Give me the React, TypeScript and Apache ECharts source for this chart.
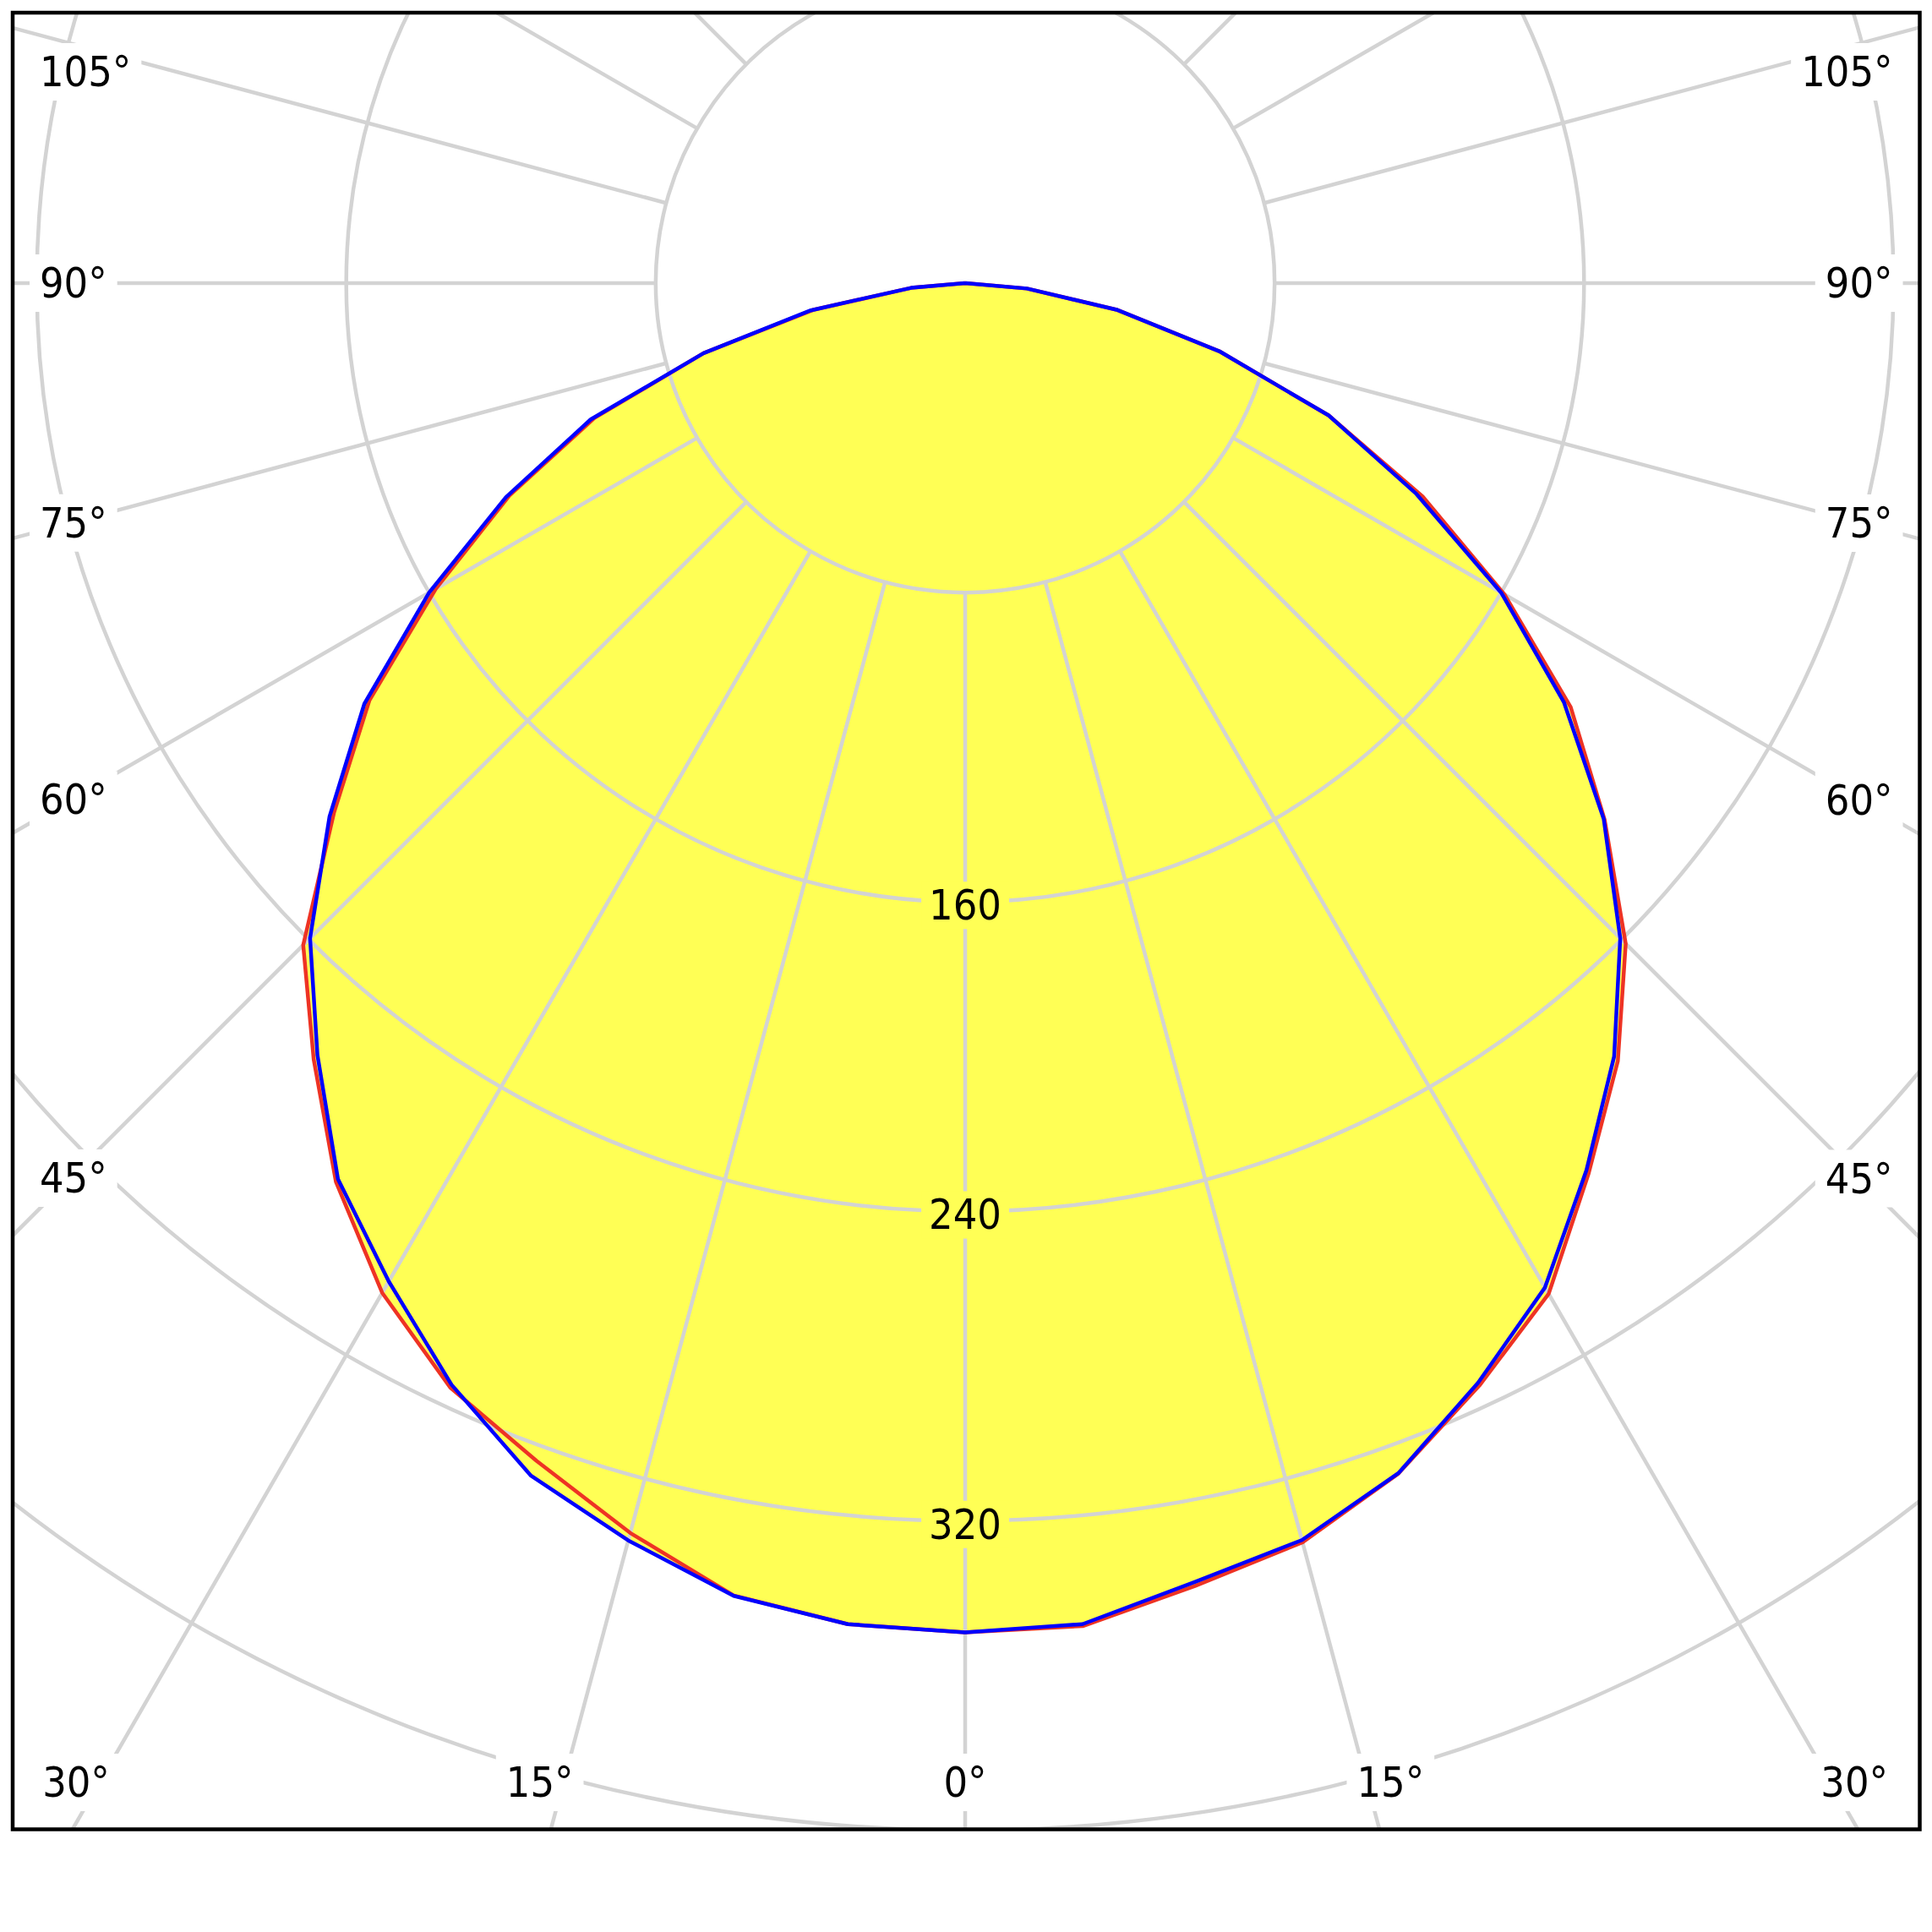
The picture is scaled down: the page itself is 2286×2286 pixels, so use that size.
import React, { useEffect, useRef } from "react";
import * as echarts from "echarts";

// ---- data (luminous intensity, cd/klm) ----
const angles = [-90, -85, -80, -75, -70, -65, -60, -55, -50, -45, -40, -35, -30, -25, -20, -15, -10, -5, 0,
  5, 10, 15, 20, 25, 30, 35, 40, 45, 50, 55, 60, 65, 70, 75, 80, 85, 90];
const redValues = [0, 14, 40, 70, 102, 130, 158, 188, 213, 242, 262, 283.6, 301.4, 315, 324, 334.5, 344.5, 348, 348.8,
  348.5, 342, 337, 327.5, 314.5, 301.7, 281, 262.5, 241.5, 215.8, 191.1, 161, 130.5, 100, 68, 40, 16, 0];
const blueValues = [0, 14, 40.5, 70, 103, 131, 160, 189.6, 214.5, 239.5, 260.5, 282.7, 298, 314.2, 328.1, 336.5, 344.6, 348, 348.8,
  348, 341, 336.4, 327.4, 313.7, 299.8, 280, 261, 239.5, 215.5, 189, 160, 128.5, 100, 68, 40, 16, 0];
const radiusTicks = [0, 80, 160, 240, 320, 400];
const radiusLabelValues = [160, 240, 320];
const angleLabelValues = [-105, -90, -75, -60, -45, -30, -15, 0, 15, 30, 45, 60, 75, 90, 105];

// ---- layout ----
const W = 2286;
const H = 2286;
const FRAME = { left: 15, top: 15, right: 2271.5, bottom: 2164.5 };
const CX = 1142;
const CY = 335;
const PX_PER_UNIT = 4.577;
const R_MAX = radiusTicks[radiusTicks.length - 1];
const R_INNER = radiusTicks[1];
const LABEL_TOP = 85;
const LABEL_BOTTOM = 2109;

const GRID = "#d3d3d3";
const YELLOW = "#ffff55";
const RED = "#ee3324";
const BLUE = "#0000ff";
const FONT = '"DejaVu Sans Condensed", "DejaVu Sans", sans-serif';
const deg = Math.PI / 180;

function pairs(vals: number[]) {
  return angles.map((a, i) => [vals[i], a]);
}

function angleLabel(a: number) {
  const s = Math.sin(a * deg);
  const c = Math.cos(a * deg);
  const text = Math.abs(a) + "\u00b0";
  const base = {
    text,
    fontSize: 50,
    fontFamily: FONT,
    fill: "#000",
    backgroundColor: "#ffffff",
    padding: [12, 12],
    lineHeight: 44,
    verticalAlign: "middle",
    textVerticalAlign: "middle",
  };
  if (Math.abs(a) >= 45) {
    const left = a < 0;
    const bx = left ? FRAME.left + 68 : FRAME.right - 70;
    let y = CY + (Math.abs(CX - bx) * c) / Math.abs(s);
    y = Math.min(Math.max(y, LABEL_TOP), LABEL_BOTTOM);
    const align = left ? "left" : "right";
    return {
      type: "text",
      x: left ? FRAME.left + 20 : FRAME.right - 20,
      y,
      z: 10,
      style: { ...base, align, textAlign: align },
    };
  }
  const y = LABEL_BOTTOM;
  let x = CX + ((y - CY) * s) / c + Math.sign(a) * 28;
  x = Math.min(Math.max(x, FRAME.left + 75), FRAME.right - 75);
  return {
    type: "text",
    x,
    y,
    z: 10,
    style: { ...base, align: "center", textAlign: "center" },
  };
}

function radiusLabel(v: number) {
  return {
    type: "text",
    x: CX,
    y: CY + v * PX_PER_UNIT + 4,
    z: 10,
    style: {
      text: String(v),
      fontSize: 50,
      fontFamily: FONT,
      fill: "#000",
      backgroundColor: YELLOW,
      padding: [3, 9],
      lineHeight: 50,
      align: "center",
      textAlign: "center",
      verticalAlign: "middle",
      textVerticalAlign: "middle",
    },
  };
}

function buildOption() {
  const redData = pairs(redValues);
  const blueData = pairs(blueValues);
  const masks = [
    { x: 0, y: 0, width: W, height: FRAME.top },
    { x: 0, y: 0, width: FRAME.left, height: H },
    { x: FRAME.right, y: 0, width: W - FRAME.right, height: H },
    { x: 0, y: FRAME.bottom, width: W, height: H - FRAME.bottom },
  ].map((r) => ({ type: "rect", z: 20, shape: r, style: { fill: "#ffffff" } }));

  const lineBase = {
    type: "line", coordinateSystem: "polar", polarIndex: 0, symbol: "none", smooth: false, silent: true,
  };

  return {
    animation: false,
    backgroundColor: "#ffffff",
    polar: [
      { center: [CX, CY], radius: R_MAX * PX_PER_UNIT },
      { center: [CX, CY], radius: [R_INNER * PX_PER_UNIT, 3400] },
    ],
    angleAxis: [
      {
        polarIndex: 0, type: "value", min: -180, max: 180, startAngle: 90, clockwise: false,
        show: false,
      },
      {
        polarIndex: 1, type: "value", min: -180, max: 180, interval: 15, startAngle: 90, clockwise: false,
        z: 3,
        axisLine: { show: false }, axisTick: { show: false }, axisLabel: { show: false },
        splitLine: { show: true, lineStyle: { color: GRID, width: 4.5 } },
      },
    ],
    radiusAxis: [
      {
        polarIndex: 0, type: "value", min: 0, max: R_MAX, interval: 80, z: 3,
        axisLine: { show: false }, axisTick: { show: false }, axisLabel: { show: false },
        splitLine: { show: true, lineStyle: { color: GRID, width: 4.5 } },
      },
      { polarIndex: 1, type: "value", min: 0, max: 1, show: false },
    ],
    series: [
      { ...lineBase, data: redData, lineStyle: { width: 0, opacity: 0 }, areaStyle: { color: YELLOW, opacity: 1 }, z: 1 },
      { ...lineBase, data: blueData, lineStyle: { width: 0, opacity: 0 }, areaStyle: { color: YELLOW, opacity: 1 }, z: 1 },
      { ...lineBase, data: redData, lineStyle: { color: RED, width: 4.5, join: "round" }, z: 4 },
      { ...lineBase, data: blueData, lineStyle: { color: BLUE, width: 4.5, join: "round" }, z: 5 },
    ],
    graphic: {
      elements: [
        ...radiusLabelValues.map(radiusLabel),
        ...angleLabelValues.map(angleLabel),
        ...masks,
        {
          type: "rect", z: 21,
          shape: { x: FRAME.left, y: FRAME.top, width: FRAME.right - FRAME.left, height: FRAME.bottom - FRAME.top },
          style: { fill: "none", stroke: "#000000", lineWidth: 4.5 },
        },
      ],
    },
  };
}

export default function App() {
  const ref = useRef<HTMLDivElement>(null);
  useEffect(() => {
    const chart = echarts.init(ref.current as HTMLDivElement, null, { renderer: "svg", width: W, height: H });
    chart.setOption(buildOption() as any);
    return () => chart.dispose();
  }, []);
  return <div ref={ref} style={{ position: "absolute", left: 0, top: 0, width: W, height: H, background: "#fff" }} />;
}
